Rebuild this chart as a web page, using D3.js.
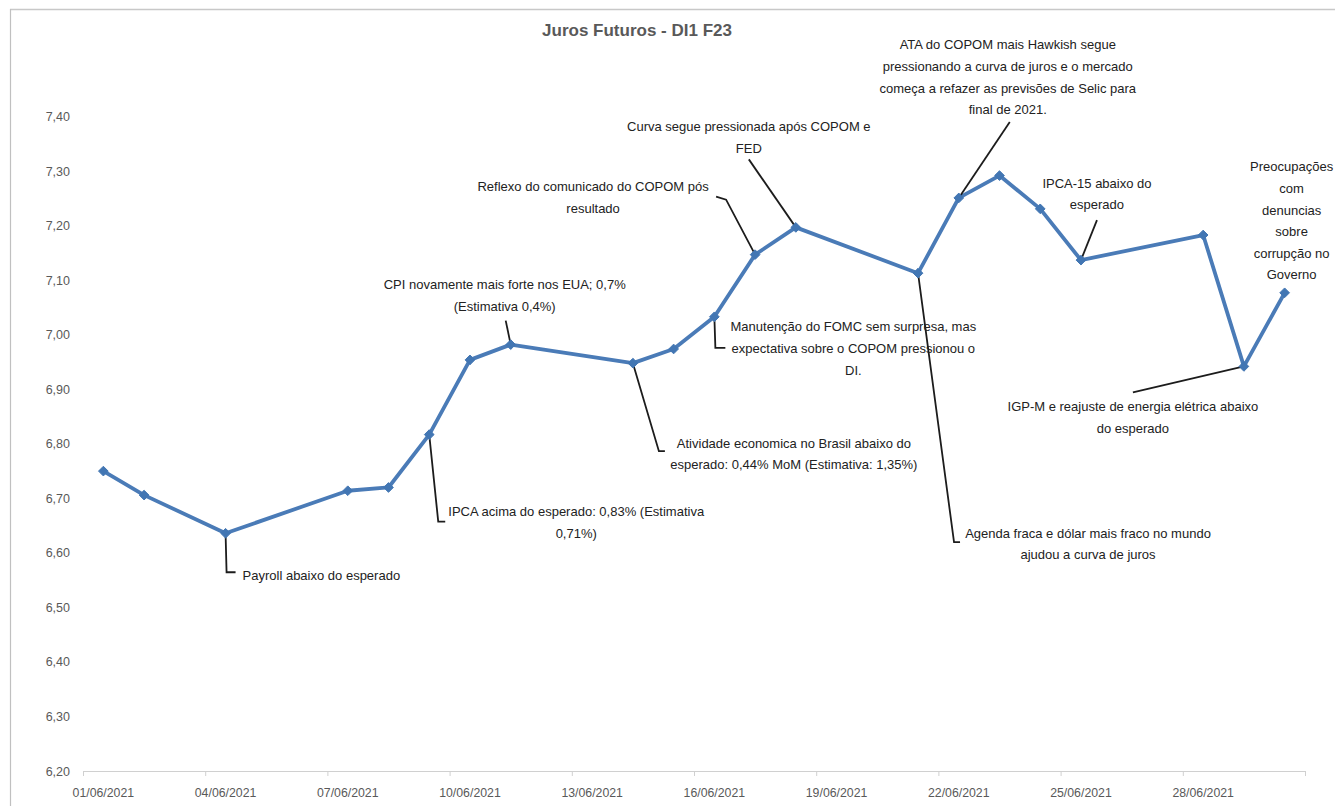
<!DOCTYPE html>
<html>
<head>
<meta charset="utf-8">
<script src="https://cdn.jsdelivr.net/npm/d3@7"></script>
<style>
  html, body { margin: 0; padding: 0; background: #fff; }
  svg { display: block; font-family: "Liberation Sans", Arial, sans-serif; }
</style>
</head>
<body>
<div id="chart"></div>
<script>
// Juros Futuros - DI1 F23, trading days of June 2021
const days = [1, 2, 4, 7, 8, 9, 10, 11, 14, 15, 16, 17, 18, 21, 22, 23, 24, 25, 28, 29, 30];
const rates = [6.75, 6.706, 6.636, 6.714, 6.72, 6.817, 6.954, 6.982, 6.948, 6.974, 7.033,
               7.147, 7.197, 7.113, 7.251, 7.292, 7.231, 7.137, 7.183, 6.942, 7.077];
const yTicks = [6.2, 6.3, 6.4, 6.5, 6.6, 6.7, 6.8, 6.9, 7.0, 7.1, 7.2, 7.3, 7.4];
const xTickDays = [1, 4, 7, 10, 13, 16, 19, 22, 25, 28];
const title = "Juros Futuros - DI1 F23";

// comments attached to a trading day
const noteDays = [4, 9, 11, 17, 18, 16, 14, 22, 25, 30, 21, 29];
const noteTexts = [
    ["Payroll abaixo do esperado"],
    ["IPCA acima do esperado: 0,83% (Estimativa", "0,71%)"],
    ["CPI novamente mais forte nos EUA; 0,7%", "(Estimativa 0,4%)"],
    ["Reflexo do comunicado do COPOM pós", "resultado"],
    ["Curva segue pressionada após COPOM e", "FED"],
    ["Manutenção do FOMC sem surpresa, mas", "expectativa sobre o COPOM pressionou o", "DI."],
    ["Atividade economica no Brasil abaixo do", "esperado: 0,44% MoM (Estimativa: 1,35%)"],
    ["ATA do COPOM mais Hawkish segue", "pressionando a curva de juros e o mercado", "começa a refazer as previsões de Selic para", "final de 2021."],
    ["IPCA-15 abaixo do", "esperado"],
    ["Preocupações", "com", "denuncias", "sobre", "corrupção no", "Governo"],
    ["Agenda fraca e dólar mais fraco no mundo", "ajudou a curva de juros"],
    ["IGP-M e reajuste de energia elétrica abaixo", "do esperado"]
];

// layout of the callouts, in pixels relative to the marker
const noteLayout = [
    {anchor: "start", dx: 17, dy: 42, leader: [[0, 0], [1, 39], [10, 39]]},
    {anchor: "middle", dx: 147, dy: 77, leader: [[0, 0], [9, 87], [16, 87]]},
    {anchor: "middle", dx: -6, dy: -60, leader: [[0, 0], [-5, -24]]},
    {anchor: "middle", dx: -162, dy: -68, leader: [[0, 0], [-29, -55], [-39, -58]]},
    {anchor: "middle", dx: -47, dy: -101, leader: [[0, 0], [-47, -68]]},
    {anchor: "middle", dx: 139, dy: 10, leader: [[0, 0], [1, 31], [11, 31]]},
    {anchor: "middle", dx: 161, dy: 80, leader: [[0, 0], [26, 88], [32, 88]]},
    {anchor: "middle", dx: 49, dy: -153, leader: [[0, 0], [51, -76]]},
    {anchor: "middle", dx: 16, dy: -77, leader: [[0, 0], [16, -40]]},
    {anchor: "middle", dx: 7, dy: -126, leader: null},
    {anchor: "middle", dx: 170, dy: 260, leader: [[0, 0], [36, 269], [42, 269]]},
    {anchor: "middle", dx: -111, dy: 40, leader: [[0, 0], [-111, 26]]}
];

const W = 1335, H = 806;
const lineH = 21.6;
const font = "Liberation Sans, Arial, sans-serif";
const dayDate = d => new Date(Date.UTC(2021, 5, d));
const midDay = d => new Date(Date.UTC(2021, 5, d, 12));
const axisEnd = new Date(Date.UTC(2021, 6, 1));

const svg = d3.select("#chart").append("svg")
    .attr("width", W).attr("height", H);

svg.append("rect").attr("width", W).attr("height", H).attr("fill", "#fff");

// frame edges visible in the capture
svg.append("line").attr("x1", 10).attr("x2", W).attr("y1", 9.5).attr("y2", 9.5)
    .attr("stroke", "#c8c8c8").attr("stroke-width", 1.5);
svg.append("line").attr("x1", 10.5).attr("x2", 10.5).attr("y1", 9).attr("y2", H)
    .attr("stroke", "#c0c0c0").attr("stroke-width", 1.2);

const x = d3.scaleUtc().domain([dayDate(1), axisEnd]).range([83, 1305]);
const y = d3.scaleLinear().domain([6.2, 7.4]).range([771, 116.7]);

// x axis: tick marks at day boundaries, labels centred on the day
const xAxis = svg.append("g")
    .attr("transform", `translate(0,${y(6.2)})`)
    .call(d3.axisBottom(x)
        .tickValues(xTickDays.map(dayDate).concat([axisEnd]))
        .tickFormat("")
        .tickSize(5).tickSizeOuter(0));
xAxis.select(".domain").attr("stroke", "#d0d0d0").attr("stroke-width", 1.2);
xAxis.selectAll(".tick line").attr("stroke", "#d0d0d0");

svg.append("g").selectAll("text").data(xTickDays).join("text")
    .attr("x", d => x(midDay(d)))
    .attr("y", 797)
    .attr("text-anchor", "middle")
    .attr("font-size", 12.3).attr("fill", "#595959").attr("font-family", font)
    .text(d => d3.utcFormat("%d/%m/%Y")(dayDate(d)));

// y axis labels only
const yAxis = svg.append("g")
    .attr("transform", "translate(80,0)")
    .call(d3.axisLeft(y).tickValues(yTicks).tickSize(0)
        .tickFormat(d => d3.format(".2f")(d).replace(".", ",")));
yAxis.select(".domain").remove();
yAxis.selectAll(".tick text").attr("fill", "#595959").attr("font-size", 12.5)
    .attr("font-family", font).attr("x", -10);

// title
svg.append("text").attr("x", 637).attr("y", 36).attr("text-anchor", "middle")
    .attr("font-size", 17).attr("font-weight", "bold").attr("fill", "#595959")
    .text(title);

const points = days.map((d, i) => ({day: d, v: rates[i]}));

// series line
svg.append("path").datum(points)
    .attr("fill", "none").attr("stroke", "#4a7bb7").attr("stroke-width", 3.8)
    .attr("stroke-linejoin", "round")
    .attr("d", d3.line().x(d => x(midDay(d.day))).y(d => y(d.v)));

// callout leaders
const notes = noteDays.map((d, i) => {
    const p = points.find(q => q.day === d);
    return {px: x(midDay(d)), py: y(p.v), lines: noteTexts[i], ...noteLayout[i]};
});

svg.append("g").selectAll("path").data(notes.filter(n => n.leader)).join("path")
    .attr("fill", "none").attr("stroke", "#1c1c1c").attr("stroke-width", 1.8)
    .attr("d", n => d3.line()(n.leader.map(([a, b]) => [n.px + a, n.py + b])));

// diamond markers
svg.append("g").selectAll("path").data(points).join("path")
    .attr("transform", d => `translate(${x(midDay(d.day))},${y(d.v)})`)
    .attr("d", d3.symbol(d3.symbolDiamond2, 60)())
    .attr("fill", "#4276b3").attr("stroke", "#4276b3").attr("stroke-width", 1);

// callout texts
const noteG = svg.append("g").selectAll("text").data(notes).join("text")
    .attr("text-anchor", n => n.anchor)
    .attr("font-size", 13).attr("fill", "#222")
    .attr("font-family", font);
noteG.selectAll("tspan").data(n => n.lines.map((t, k) => ({n, t, k}))).join("tspan")
    .attr("x", o => o.n.px + o.n.dx)
    .attr("y", o => o.n.py + o.n.dy + o.k * lineH)
    .attr("dy", "0.35em")
    .text(o => o.t);
</script>
</body>
</html>
